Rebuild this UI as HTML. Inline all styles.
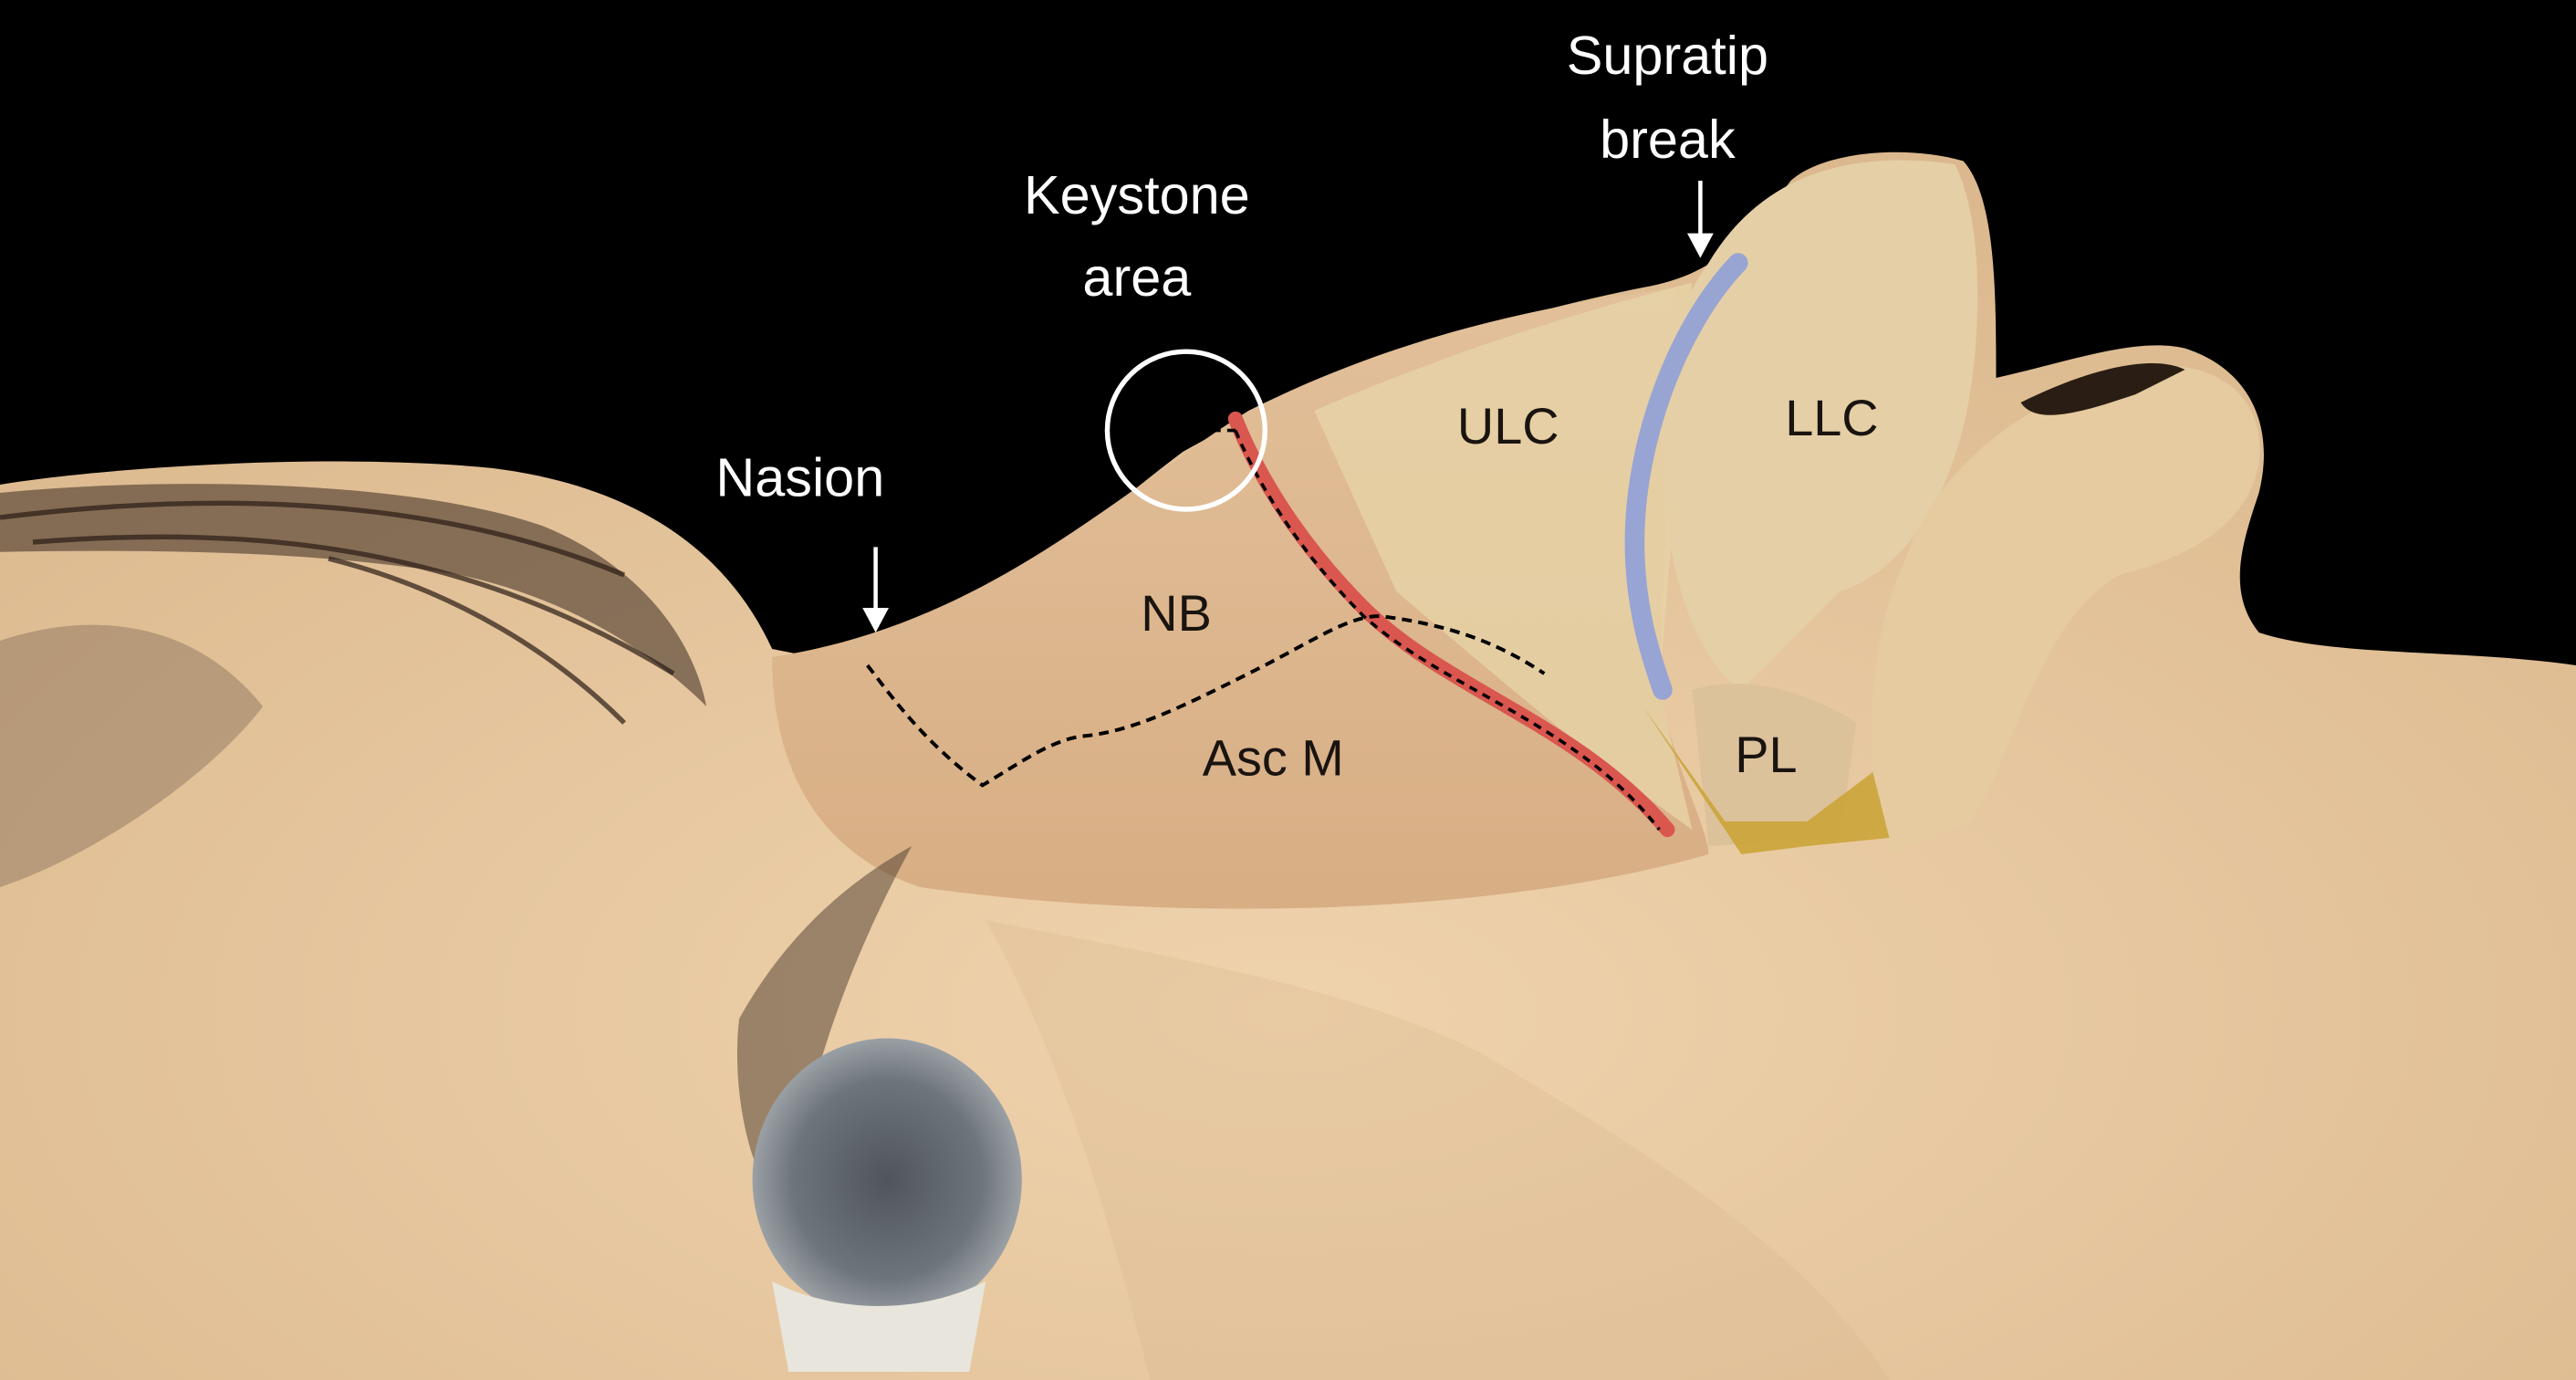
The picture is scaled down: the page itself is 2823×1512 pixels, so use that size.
<!DOCTYPE html>
<html><head><meta charset="utf-8"><style>
html,body{margin:0;padding:0;background:#000;}
svg{display:block;}
text{font-family:"Liberation Sans",sans-serif;}
</style></head><body>
<svg width="2823" height="1512" viewBox="0 0 1568 840" preserveAspectRatio="none" xmlns="http://www.w3.org/2000/svg">
<defs>
<radialGradient id="sk" cx="0.5" cy="0.7" r="0.8">
<stop offset="0" stop-color="#efd3ad"/><stop offset="1" stop-color="#d9b58a"/>
</radialGradient>
<linearGradient id="nose" x1="0" y1="0" x2="0" y2="1">
<stop offset="0" stop-color="#e2c09a"/><stop offset="1" stop-color="#d8ae84"/>
</linearGradient>
<radialGradient id="eye" cx="0.5" cy="0.5" r="0.5">
<stop offset="0" stop-color="#50555c"/><stop offset="0.7" stop-color="#6d747c"/><stop offset="1" stop-color="#9aa0a4"/>
</radialGradient>
</defs>
<rect width="1568" height="840" fill="#000"/>
<path d="M0,295 C60,285 200,275 300,285 C380,295 440,330 470,395 L520,405 C600,380 660,320 720,275 C800,230 900,195 1000,175 C1040,168 1060,150 1090,110 C1110,92 1160,88 1195,98 C1215,120 1215,180 1215,230 C1260,220 1300,205 1330,212 C1370,225 1385,260 1375,300 C1365,330 1355,360 1375,385 C1420,400 1500,395 1568,405 L1568,840 L0,840 Z" fill="url(#sk)"/>
<path d="M470,400 C600,380 680,300 760,250 C860,200 950,185 1020,175 L1010,420 C1020,470 1040,505 1040,520 C900,560 700,560 560,540 C500,520 470,470 470,400 Z" fill="url(#nose)"/>
<path d="M800,250 C880,215 960,190 1030,172 L1010,420 L1030,505 C980,470 920,420 850,360 Z" fill="#e7d3a8" opacity="0.8"/>
<path d="M1040,160 C1070,110 1120,90 1190,100 C1210,140 1205,220 1195,260 C1180,320 1150,350 1120,360 L1060,420 C1030,400 1010,340 1012,260 C1015,210 1025,180 1040,160 Z" fill="#e5cfa6"/>
<path d="M1160,340 C1180,280 1240,240 1300,225 C1345,215 1380,240 1375,280 C1370,320 1330,340 1290,350 C1240,380 1230,450 1200,500 L1150,520 C1130,460 1140,380 1160,340 Z" fill="#e6cba0"/>
<path d="M1230,245 C1270,225 1310,215 1330,225 L1300,240 C1270,250 1240,260 1230,245 Z" fill="#2a1e14"/>
<path d="M1030,420 C1060,410 1100,420 1130,440 L1120,510 L1040,515 Z" fill="#dcc29a"/>
<path d="M1000,430 L1060,520 L1100,515 L1150,510 L1140,470 L1100,500 L1050,500 Z" fill="#c9a232" opacity="0.85"/>
<!-- brow hair strands -->
<path d="M0,300 C100,290 250,292 330,320 C380,340 420,380 430,430 C400,400 350,365 280,350 C200,336 100,334 0,336 Z" fill="#3a2a20" opacity="0.55"/>
<g stroke="#2a1c14" stroke-width="3" fill="none" opacity="0.7">
<path d="M0,315 C120,300 260,300 380,350"/>
<path d="M20,330 C150,320 280,330 410,410"/>
<path d="M200,340 C280,360 340,400 380,440"/>
</g>
<path d="M0,390 C60,370 120,380 160,430 C130,470 60,520 0,540 Z" fill="#6a5545" opacity="0.35"/>
<path d="M450,620 C475,575 510,540 555,515 C525,570 490,650 480,740 C455,720 445,660 450,620 Z" fill="#4a3a2c" opacity="0.5"/>
<ellipse cx="540" cy="718" rx="82" ry="86" fill="url(#eye)"/>
<path d="M470,780 C510,800 560,800 600,780 L590,835 L480,835 Z" fill="#e8e6dc"/>
<path d="M600,560 C700,580 820,600 900,640 C1000,700 1100,760 1150,840 L700,840 C680,760 650,650 600,560 Z" fill="#d6b58d" opacity="0.3"/>
<path d="M1058,160 C1020,200 995,270 995,330 C995,370 1005,400 1012,420" fill="none" stroke="#8fa0d8" stroke-width="12" stroke-linecap="round" opacity="0.9"/>
<path d="M752,255 C770,300 800,340 830,370 C880,420 960,440 1015,505" fill="none" stroke="#d9574f" stroke-width="9" stroke-linecap="round"/>
<path d="M752,262 C770,305 800,345 830,375 C880,420 960,440 1010,505" fill="none" stroke="#000" stroke-width="2" stroke-dasharray="5,4"/>
<path d="M528,405 C540,420 560,450 598,478 C620,465 640,450 660,448 C690,445 720,430 760,410 C800,390 820,375 840,375 C880,380 910,390 940,410" fill="none" stroke="#000" stroke-width="2.2" stroke-dasharray="6,4"/>
<path d="M720,262 L752,262" stroke="#000" stroke-width="2" stroke-dasharray="5,4"/>
<circle cx="722" cy="262" r="48" fill="none" stroke="#fff" stroke-width="3"/>
<line x1="533" y1="333" x2="533" y2="372" stroke="#fff" stroke-width="2.5"/>
<path d="M525,370 L541,370 L533,385 Z" fill="#fff"/>
<line x1="1035" y1="110" x2="1035" y2="143" stroke="#fff" stroke-width="2.5"/>
<path d="M1027,142 L1043,142 L1035,157 Z" fill="#fff"/>
<g fill="#fff" font-size="33" text-anchor="middle">
<text x="692" y="130">Keystone</text>
<text x="692" y="180">area</text>
<text x="1015" y="45">Supratip</text>
<text x="1015" y="96">break</text>
<text x="487" y="302">Nasion</text>
</g>
<g fill="#1a1410" font-size="31" text-anchor="middle">
<text x="918" y="270">ULC</text>
<text x="1115" y="265">LLC</text>
<text x="716" y="384">NB</text>
<text x="775" y="472">Asc M</text>
<text x="1075" y="470">PL</text>
</g>
</svg>
</body></html>
